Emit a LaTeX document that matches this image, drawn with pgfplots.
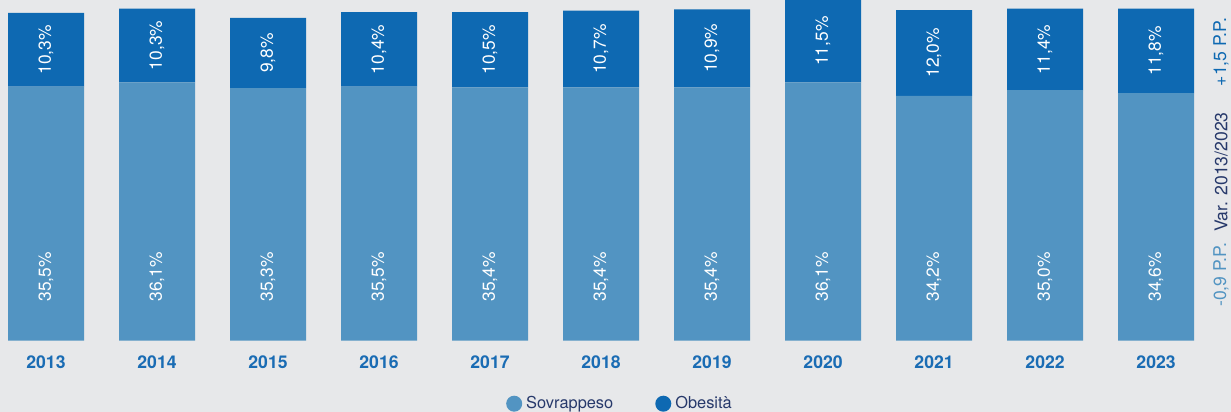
\documentclass[border=0pt]{standalone}
\usepackage{fontspec}
\setmainfont{TeX Gyre Heros}
\usepackage{pgfplots}
\usepackage{pgfplotstable}
\pgfplotsset{compat=1.18}
\definecolor{bg}{HTML}{E7E8EA}
\definecolor{sovr}{HTML}{5294C2}
\definecolor{obes}{HTML}{0E69B2}
\definecolor{yearblue}{HTML}{1A6CB4}
\definecolor{navy}{HTML}{27396B}

% anno, sovrappeso, obesita (%)
\pgfplotstableread{
x anno s o
0 2013 35.5 10.3
1 2014 36.1 10.3
2 2015 35.3 9.8
3 2016 35.5 10.4
4 2017 35.4 10.5
5 2018 35.4 10.7
6 2019 35.4 10.9
7 2020 36.1 11.5
8 2021 34.2 12.0
9 2022 35.0 11.4
10 2023 34.6 11.8
}\dati

\newcommand{\pct}[1]{\pgfmathprintnumber[fixed,fixed zerofill,precision=1,use comma,assume math mode=true]{#1}\%}

\pgfplotsset{frame/.style={
  at={(0pt,35.65pt)}, anchor=south west,
  width=600pt, height=170.35pt, scale only axis,
  xmin=-0.4144, xmax=10.396, ymin=0, ymax=47.6,
  enlargelimits=false, clip=false}}

\begin{document}
\begin{tikzpicture}
\fill[bg] (0,0) rectangle (615.5pt,206pt);
\begin{axis}[frame,
  ybar stacked, bar width=38pt,
  axis line style={draw=none}, tick style={draw=none}, ytick=\empty,
  xtick={0,...,10}, xticklabels from table={\dati}{anno},
  xticklabel style={font=\fontsize{8.8}{10}\selectfont\bfseries, text=yearblue, anchor=center, yshift=-11pt},
  legend style={at={(0.5175,0)}, anchor=center, yshift=-31.5pt, draw=none, fill=none,
    legend columns=-1, font=\fontsize{8.2}{10}\selectfont, text=navy,
    /tikz/every even column/.append style={column sep=19pt}},
  legend image code/.code={\fill[#1] (2pt,0pt) circle (4pt);},
]
\addplot[fill=sovr, draw=none] table[x=x, y=s] {\dati};
\addplot[fill=obes, draw=none] table[x=x, y=o] {\dati};
\legend{Sovrappeso, Obesità}
\node[rotate=90, font=\fontsize{8.8}{10}\selectfont, text=obes] at (rel axis cs:1.0175,0.847) {+1,5 P.P.};
\node[rotate=90, font=\fontsize{8.8}{10}\selectfont, text=navy] at (rel axis cs:1.0175,0.495) {Var. 2013/2023};
\node[rotate=90, font=\fontsize{8.8}{10}\selectfont, text=sovr] at (rel axis cs:1.0175,0.193) {-0,9 P.P.};
\end{axis}
% value labels
\begin{axis}[frame, hide axis]
\addplot[only marks, mark=none, point meta=explicit,
  nodes near coords={\pct{\pgfplotspointmeta}},
  every node near coord/.style={font=\fontsize{8.7}{10}\selectfont, text=white, inner sep=0pt,
    yshift=19.4pt, rotate=90, anchor=west},
] table[x=x, y expr=0, meta=s] {\dati};
\addplot[only marks, mark=none, point meta=explicit,
  nodes near coords={\pct{\pgfplotspointmeta}},
  every node near coord/.style={font=\fontsize{8.7}{10}\selectfont, text=white, inner sep=0pt,
    rotate=90, anchor=center},
] table[x=x, y expr=\thisrow{s}+\thisrow{o}/2, meta=o] {\dati};
\end{axis}
\pgfresetboundingbox
\useasboundingbox (0,0) rectangle (615.5pt,206pt);
\end{tikzpicture}
\end{document}
